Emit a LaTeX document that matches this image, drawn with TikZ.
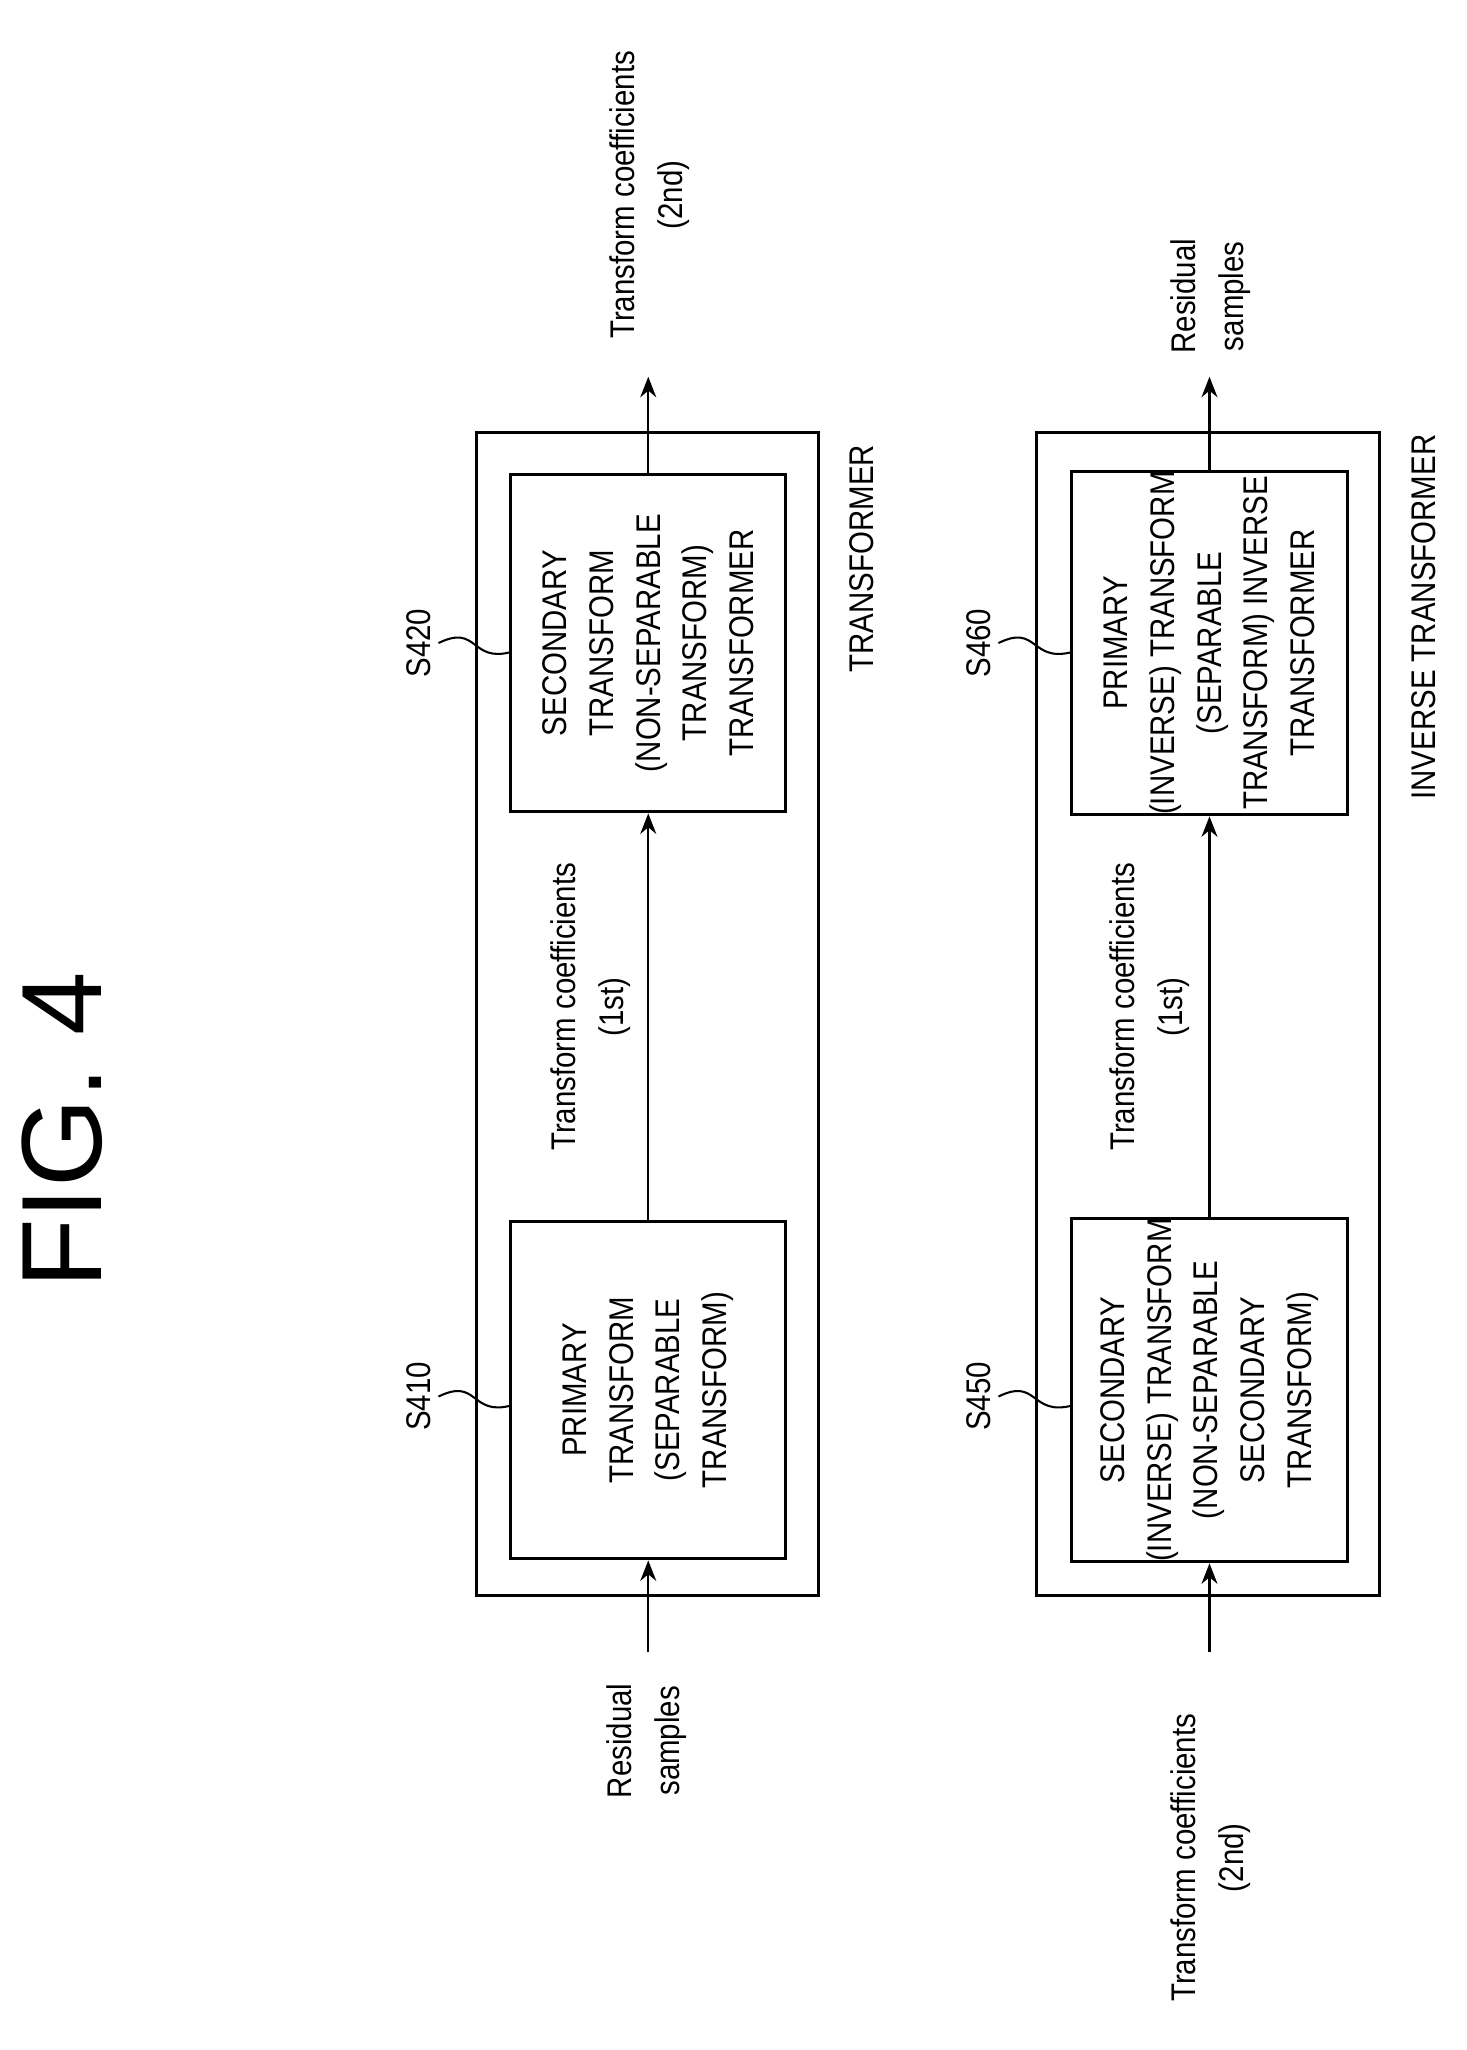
\documentclass[tikz,border=0pt]{standalone}
\usepackage{fontspec}
\setmainfont[FakeStretch=0.86]{Liberation Sans}
\newfontfamily\plain{Liberation Sans}
\usetikzlibrary{arrows.meta}
\begin{document}
\begin{tikzpicture}[x=0.02cm,y=-0.02cm,
  box/.style={draw,line width=1.3pt},
  inner/.style={draw,line width=1.3pt,minimum width=5.2cm,minimum height=4.24cm,rotate=90,align=center,font=\fontsize{15}{20.5}\selectfont,inner sep=0pt},
  lbl/.style={rotate=90,align=center,font=\fontsize{15}{21}\selectfont},
  arr/.style={line width=0.9pt,-{Stealth[length=9pt,width=7pt]}},
  lead/.style={line width=0.9pt}]
\useasboundingbox (0,0) rectangle (1129,1578);
\node[rotate=90,font=\plain\fontsize{50}{60}\selectfont] (title) at (48,870) {FIG. 4};
% group 1
\draw[box] (367,333) rectangle (630,1228);
\node[inner] (a1) at (499,1070) {PRIMARY\\TRANSFORM\\(SEPARABLE\\TRANSFORM)};
\node[inner] (a2) at (499,495) {SECONDARY\\TRANSFORM\\(NON-SEPARABLE\\TRANSFORM)\\TRANSFORMER};
\coordinate (in1) at (499,1272);
\coordinate (out1) at (499,290);
\draw[arr] (in1) -- (a1.west);
\draw[arr] (a1.east) -- (a2.west);
\draw[arr] (a2.east) -- (out1);
\node[lbl] (l1) at (498,1340) {Residual\\samples};
\node[lbl] (l2) at (500,150) {Transform coefficients\\(2nd)};
\node[lbl] (l3) at (455,775) {Transform coefficients\\(1st)};
\node[lbl,anchor=north] (t1) at (648,430) {TRANSFORMER};
\node[lbl] (s410) at (322,1075) {S410};
\node[lbl] (s420) at (322,495) {S420};
\draw[lead] (s410.south) .. controls (368,1060) and (362,1090) .. (393,1082);
\draw[lead] (s420.south) .. controls (368,480) and (362,510) .. (393,502);
% group 2
\draw[box] (798,333) rectangle (1062,1228);
\node[inner] (b1) at (931,1070) {SECONDARY\\(INVERSE) TRANSFORM\\(NON-SEPARABLE\\SECONDARY\\TRANSFORM)};
\node[inner] (b2) at (931,495) {PRIMARY\\(INVERSE) TRANSFORM\\(SEPARABLE\\TRANSFORM) INVERSE\\TRANSFORMER};
\coordinate (in2) at (931,1272);
\coordinate (out2) at (931,290);
\draw[arr] (in2) -- (b1.west);
\draw[arr] (b1.east) -- (b2.west);
\draw[arr] (b2.east) -- (out2);
\node[lbl] (m1) at (932,1430) {Transform coefficients\\(2nd)};
\node[lbl] (m2) at (932,228) {Residual\\samples};
\node[lbl] (m3) at (885,775) {Transform coefficients\\(1st)};
\node[lbl,anchor=north] (t2) at (1080,475) {INVERSE TRANSFORMER};
\node[lbl] (s450) at (753,1075) {S450};
\node[lbl] (s460) at (753,495) {S460};
\draw[lead] (s450.south) .. controls (799,1060) and (793,1090) .. (825,1082);
\draw[lead] (s460.south) .. controls (799,480) and (793,510) .. (825,502);
\end{tikzpicture}
\end{document}
